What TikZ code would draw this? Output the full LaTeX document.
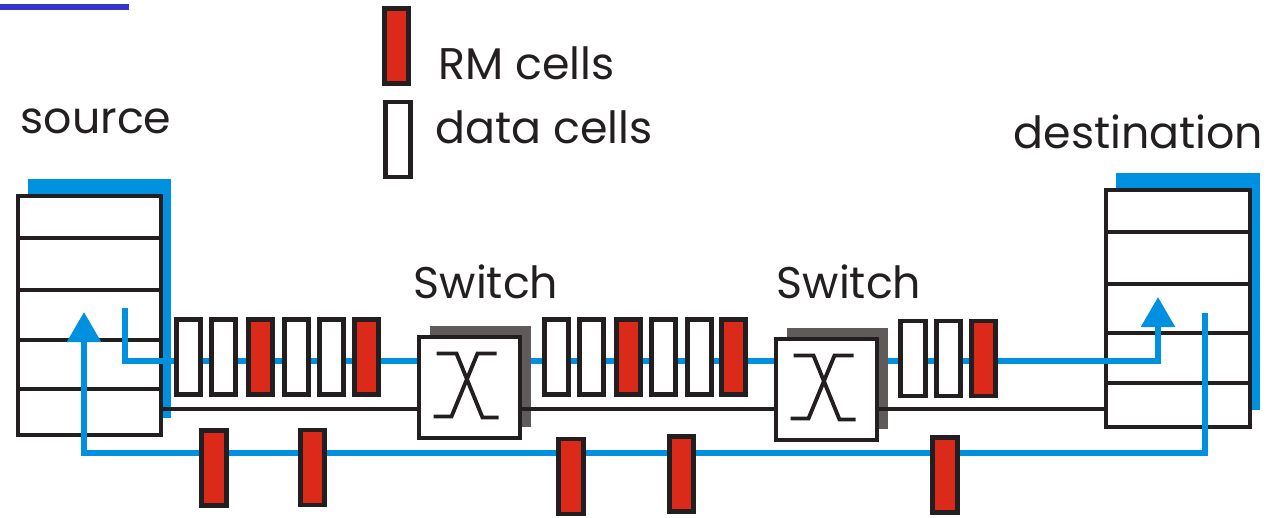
\documentclass[tikz,border=0pt]{standalone}
\usepackage{fontspec}
\setmainfont{Poppins}
\usetikzlibrary{arrows.meta,positioning,shadows}
\definecolor{linkblue}{HTML}{0090E0}
\definecolor{rmred}{HTML}{DC2A1A}
\definecolor{swgray}{HTML}{5F5B5B}
\definecolor{barblue}{HTML}{3535C8}
\definecolor{ink}{HTML}{231F20}

\tikzset{
  cell/.style={draw=ink, line width=1.35pt, fill=white, minimum width=0.243cm,
    minimum height=0.75cm, inner sep=0pt},
  rmcell/.style={cell, fill=rmred},
  host/.style={draw=ink, line width=1.25pt, fill=white, inner sep=0pt,
    drop shadow={shadow xshift=0.1cm, shadow yshift=0.17cm, fill=linkblue, opacity=1}},
  switchbox/.style={draw=ink, line width=1.25pt, fill=white, minimum size=1.01cm,
    inner sep=0pt,
    drop shadow={shadow xshift=0.11cm, shadow yshift=0.11cm, fill=swgray, opacity=1}},
  link/.style={linkblue, line width=1.6pt},
  wire/.style={ink, line width=1pt},
  lbl/.style={font=\fontsize{12.6}{15}\selectfont, text=ink, anchor=base west, inner sep=0pt},
}

\begin{document}
\begin{tikzpicture}[x=0.01cm, y=-0.01cm]
\useasboundingbox (0,0) rectangle (1278,517);

% top bar
\draw[barblue, line width=1.5pt] (0,7) -- (129,7);

% end systems
\node[host, minimum width=1.43cm, minimum height=2.39cm] (src) at (89.5,315.5) {};
\foreach \y in {238,290,340,389}
  \draw[ink, line width=1.25pt] (src.west |- 0,\y) -- (src.east |- 0,\y);
\node[host, minimum width=1.44cm, minimum height=2.37cm] (dst) at (1178,308.5) {};
\foreach \y in {232,284,333,383}
  \draw[ink, line width=1.25pt] (dst.west |- 0,\y) -- (dst.east |- 0,\y);

\node[lbl] (srclbl) at (20,133) {source};
\node[lbl] (dstlbl) at (1013,148) {destination};

% forward and backward paths
\coordinate (srcout) at (125,308);
\coordinate (dstin) at (1158,297);
\coordinate (dstout) at (1205,313);
\coordinate (srcin) at (84,312);
\draw[link, -{Triangle[length=0.3cm, width=0.33cm]}] (srcout) -- ++(0,53) -| (dstin);
\draw[link, -{Triangle[length=0.3cm, width=0.33cm]}] (dstout) -- ++(0,140) -| (srcin);

% switches
\node[switchbox] (sw1) at (469.5,387.5) {};
\node[switchbox] (sw2) at (826.5,389.5) {};
\foreach \s in {sw1,sw2}
  \draw[ink, line width=1.1pt, shift={(\s.center)}]
    (-33,-34) -- (-13,-34) -- (13,30) -- (29,30)
    (27,-34) -- (8,-34) -- (-18,29) -- (-36,29);
\node[lbl] (sw1lbl) at (413,298) {Switch};
\node[lbl] (sw2lbl) at (776,298) {Switch};

\draw[wire] (src.east |- 0,409) -- (sw1.west |- 0,409);
\draw[wire] (sw1.east |- 0,409) -- (sw2.west |- 0,409);
\draw[wire] (sw2.east |- 0,409) -- (dst.west |- 0,409);

% cells on the forward path
\foreach \x/\t [count=\i] in {188.5/cell,223.5/cell,260.5/rmcell,296.5/cell,331.5/cell,366.5/rmcell}
  \node[\t] (a\i) at (\x,357) {};
\foreach \x/\t [count=\i] in {556.5/cell,591.5/cell,628.5/rmcell,663.5/cell,699.5/cell,733.5/rmcell}
  \node[\t] (b\i) at (\x,357) {};
\foreach \x/\t [count=\i] in {913/cell,948.5/cell,983.5/rmcell}
  \node[\t] (c\i) at (\x,358.5) {};

% RM cells going back
\foreach \x/\y [count=\i] in {214/468,312.5/467.5,571/476.5,681.5/474,945/475}
  \node[rmcell] (rm\i) at (\x,\y) {};

% legend
\node[rmcell] (keyrm) at (396.5,46) {};
\node[cell] (keydata) at (398,139.5) {};
\node[lbl] (keyrmlbl) at (438,79) {RM cells};
\node[lbl] (keydatalbl) at (435,143) {data cells};
\end{tikzpicture}
\end{document}
